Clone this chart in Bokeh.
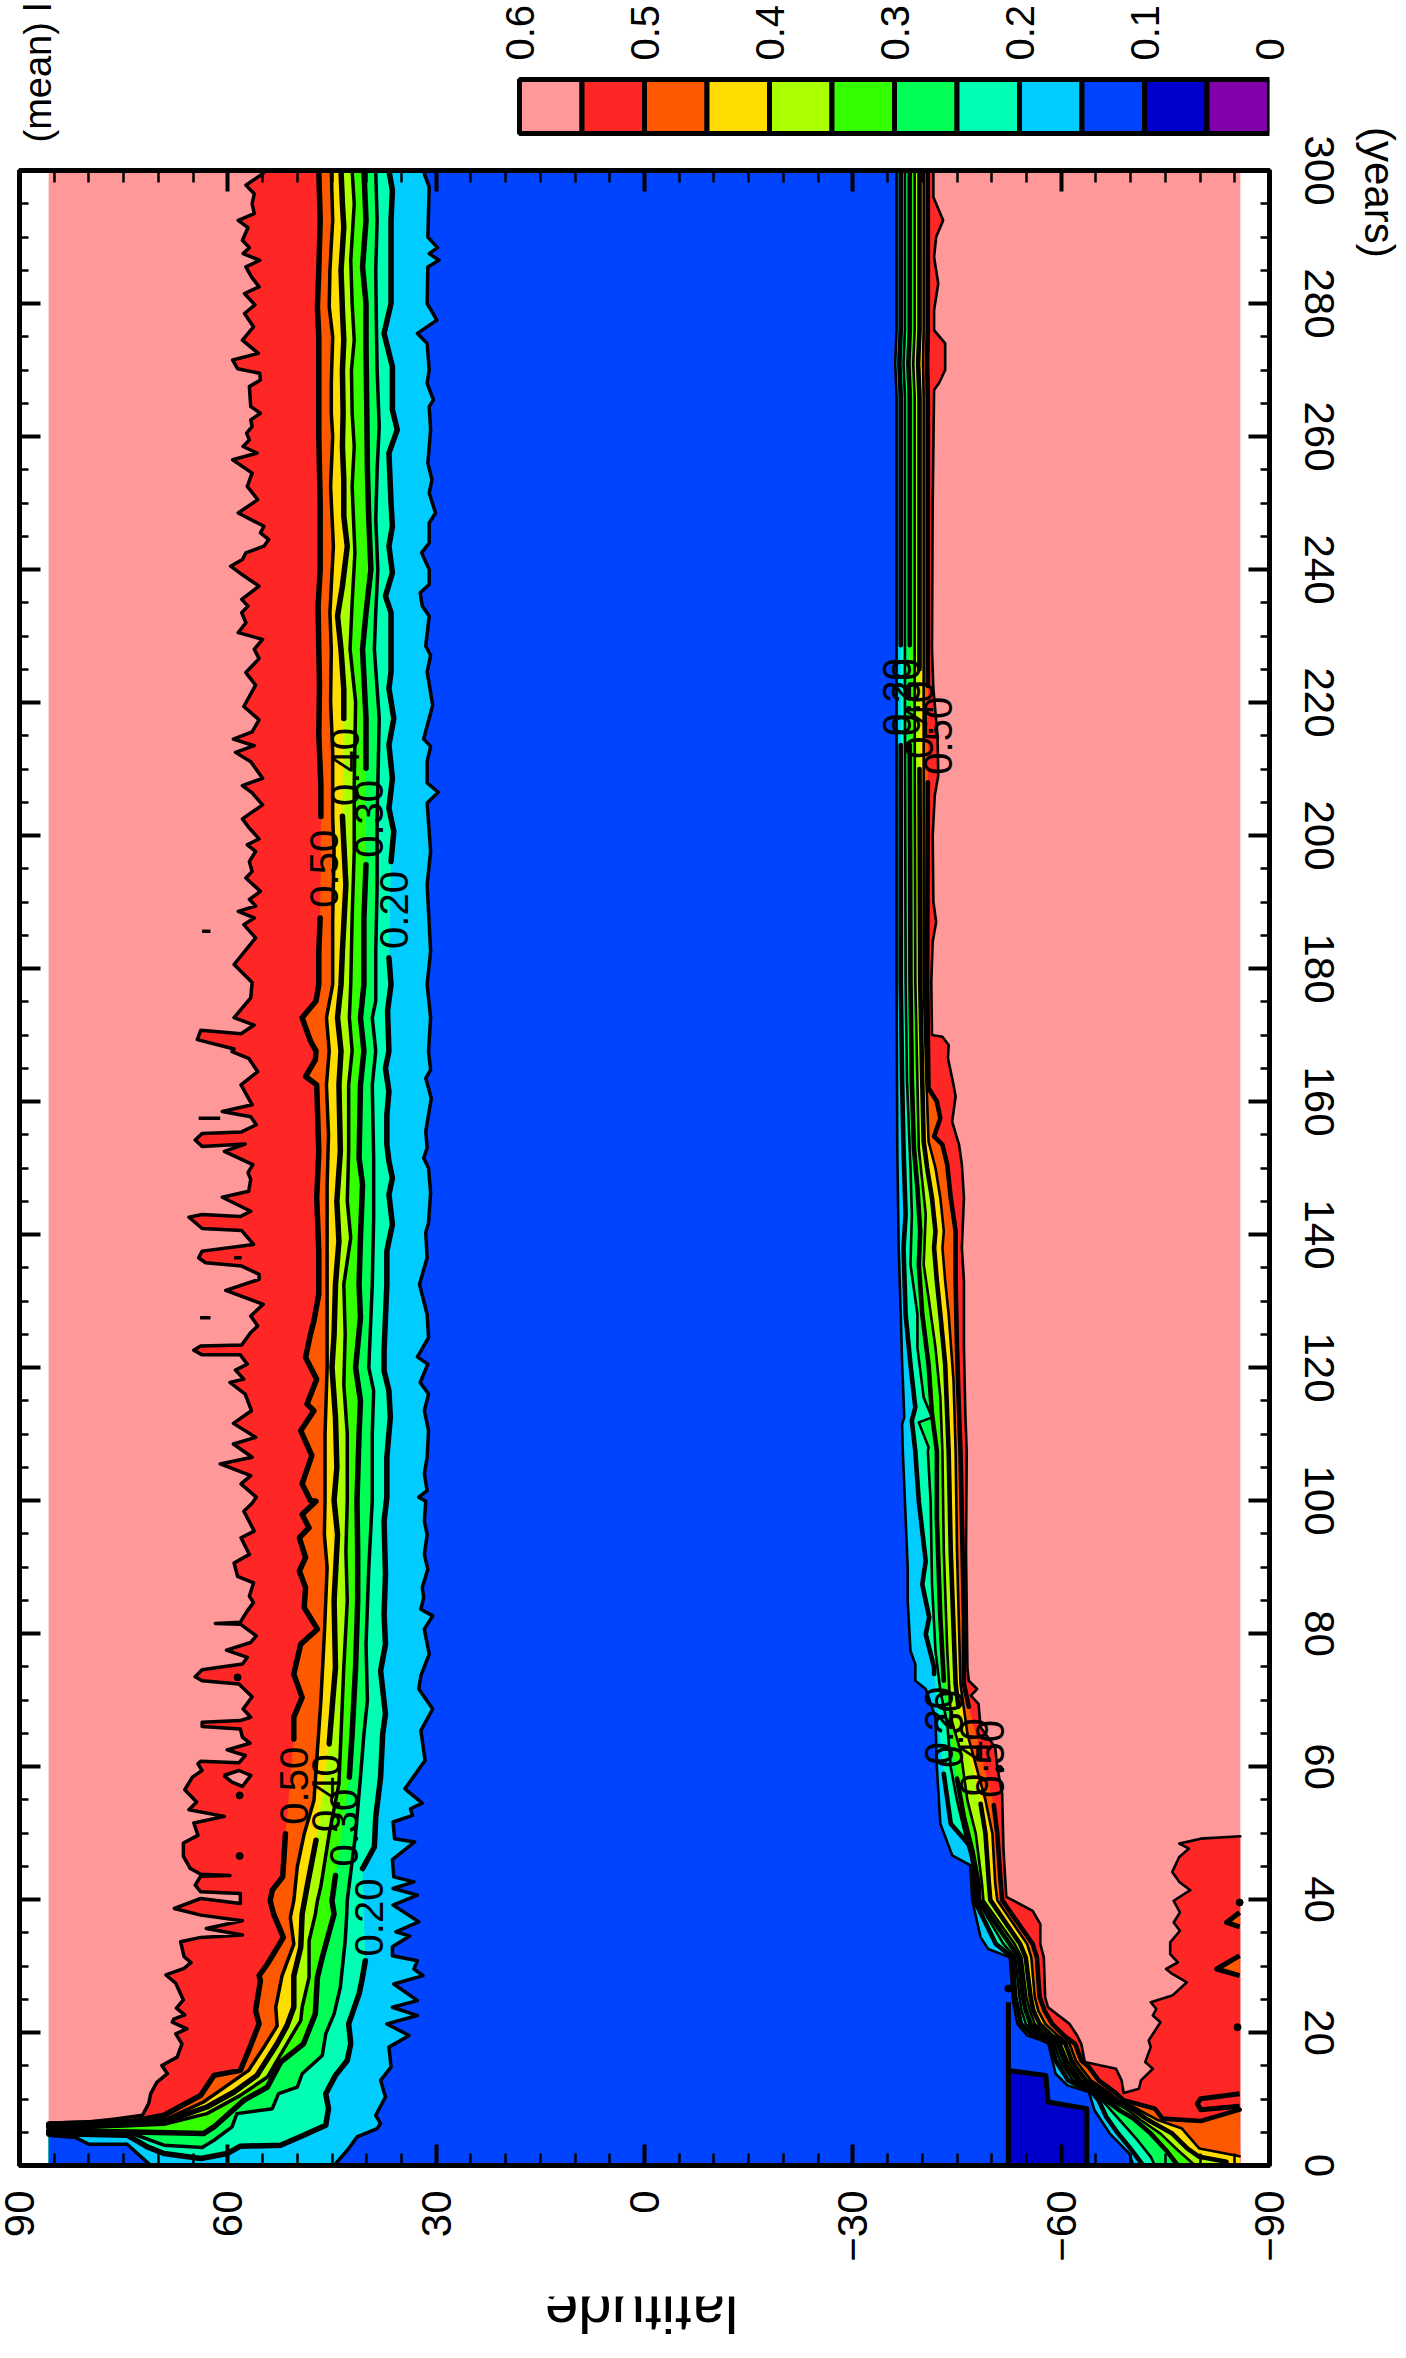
from math import pi
from bokeh.plotting import figure
from bokeh.layouts import column
from bokeh.models import FixedTicker, LinearAxis, Range1d
from bokeh.core.properties import value
from bokeh.embed import file_html
from bokeh.resources import INLINE

GAP = (float("nan"), float("nan"))
FONT = "Liberation Sans"

band_low = [0.55, 0.50, 0.45, 0.40, 0.35, 0.30, 0.25, 0.20, 0.15, 0.10, 0.05, 0.0]
band_colors = ["#ff9999", "#ff2626", "#ff5900", "#ffdd00", "#aaff00", "#33ff00",
               "#00ff55", "#00ffb4", "#00ccff", "#0044ff", "#0000cc", "#8000aa"]
lat_ticks = [90, 60, 30, 0, -30, -60, -90]
lat_minor = list(range(-90, 91, 5))
year_ticks = list(range(0, 301, 20))
year_minor = list(range(0, 301, 5))
bar_ticks = [0, 0.1, 0.2, 0.3, 0.4, 0.5, 0.6]
lat_edge = 85.8

nh_c55 = [(300,54.5),(299.5,55.0),(297.8,57.4),(296.5,56.2),(295,56.5),(293.5,56.2),(292.5,58.5),(291.4,57.1),(289.5,57.9),(288.4,56.9),(287.5,57.8),(286.5,55.4),(285.5,57.4),(284,56.6),(282.5,55.5),(281.5,57.6),(279.8,56.1),(278.5,57.6),(276.5,56.3),(274.5,57.9),(272.5,55.6),(271.5,59.3),(270.2,58.6),(269.5,55.4),(268.5,55.3),(267.5,56.9),(264.5,56.7),(263.5,55.3),(262.5,56.7),(261.5,56.5),(260.5,57.3),(259.5,56.9),(258.5,57.8),(257.5,55.8),(256.5,59.3),(254.5,56.5),(252.5,57.2),(250.5,55.7),(248.5,58.5),(246.5,54.8),(245.5,55.3),(244.5,54.1),(243.5,54.8),(242.5,57.4),(241.5,57.9),(240.5,59.6),(239.2,57.9),(237.5,55.5),(235.5,58.0),(234.5,57.1),(233.5,58.0),(232,57.4),(230.5,58.5),(229.5,55.0),(228,56.2),
 (226.6,55.5),(224.5,57.4),(222.6,56.0),(219.4,57.7),(217.4,55.5),(215.6,56.5),(214.5,59.2),(213.5,56.2),(212.5,58.9),(211.1,56.7),(208.6,55.0),(207.5,57.9),(206.4,56.5),(204.6,55.0),(202.5,57.9),(201.1,56.9),(199.5,55.5),(198.6,57.2),(197.6,56.0),(196.1,56.9),(194.6,56.5),(193.6,57.4),(191.6,55.3),(190.4,56.9),(189.4,56.0),(188.6,58.5),(187.6,56.2),(186.6,57.7),(184.6,56.0),(180.6,59.1),(177.9,56.5),(175.6,56.7),(172.6,59.1),(171.5,56.2),(170.2,58.1),(170.7,63.9),(169.3,64.4),(167.9,59.1),
 (167.5,59.4),(166.5,57.0),(164.5,55.7),(162.5,58.1),(159.5,56.5),(158.5,60.8),(157.7,56.7),(156.5,55.9),(155.4,58.1),(155.2,63.7),(154.2,64.7),(153.25,63.7),(153.6,57.5),(152.5,60.5),(150.5,56.4),(149.3,57.1),(148.3,56.7),(146.5,57.0),(145.6,60.8),(143.5,56.7),(142.7,58.2),(143,63.7),(142.6,65.6),(140.9,63.7),(140.6,58.0),(138.5,56.3),(137.5,63.7),(136.5,64.2),(135.75,63.2),(135.25,58.0),(134,55.5),(133.25,55.5),(131.6,60.3),(129.5,54.9),(127.75,56.7),(126.25,55.7),(125.25,56.7),(123.4,58.0),(123.25,63.9),(122.6,64.9),(121.9,63.7),(121.9,58.2),(120.5,57.2),(119.6,58.9),(118.25,57.7),(117.75,59.7),(116,57.5),(113.5,56.6),(111.6,59.2),(109.5,56.0),(108.5,59.2),(106.5,56.5),(105.5,61.1),(103.75,56.7),(102.5,58.1),(100.5,55.9),
 (99.6,56.5),(98.4,57.7),(95.4,56.2),(94.4,58.1),(91.9,56.9),(90.6,59.1),(88.6,58.6),(87.6,56.3),(85.6,56.9),
 (84.65,56.3),(83.4,57.2),(81.7,58.2),(81.5,61.8),(81.4,58.2),(79.65,55.9),(78.65,56.7),(77.5,60.2),(76.4,57.2),(75.4,57.9),(74.55,63.7),(73.5,64.7),(72.9,63.7),(72.4,58.4),(70.5,56.5),(68.65,57.8),(67.4,56.7),(66.9,58.2),(66.65,63.7),(66.0,63.7),(65.65,58.2),(64.4,57.9),(63.5,56.8),(62.5,60.1),(61.65,57.5),(60.55,58.4),(60.8,63.9),(60.4,64.3),(59.4,63.7),(58.4,65.1),(56.5,66.2),(54.65,64.5),(53.5,65.6),(52.5,60.5),(51.5,64.9),(49.65,64.3),(48.5,66.4),(46.5,66.4),(44.65,65.4),(43.8,63.9),(43.6,59.7),(43.5,63.9),(42.15,64.7),(41.15,63.9),(40.9,58.2),(39.4,58.2),(40.15,63.9),(38.65,67.7),(37.65,63.9),(36.8,57.9),(35.65,63.1),(34.65,57.9),(34.3,63.9),(33.65,66.8),(31.4,66.3),(30.5,65.3),(29.65,66.3),(28.65,68.9),(27.4,67.5),(24.9,66.4),(23.65,67.4),(22.65,66.2),(22.0,67.8),
 (21.55,68.0),(20.55,65.9),(19.8,67.5),(18.3,66.6),(16.3,67.3),(15.05,69.5),(13.8,68.7),(12.55,70.2),(10.8,71.1),(9.3,71.4),(7.55,72.3),(7.05,75.9),(6.55,80),(6.4,85.8)]

nh_c50 = [(300,46.9),(292.5,46.7),(285,46.9),(279.5,47.1),(275,46.9),(268,46.9),(263.5,46.9),(260,46.9),(250,46.7),(240,46.7),(234.5,47),(228,46.9),
 (222.6,46.8),(215.1,46.9),(207.6,46.6),(202.85,46.6),GAP,(187.6,46.7),(182.6,46.9),(177.6,46.9),(175.1,47.3),(172.6,49.3),(169.1,48.1),(167.6,47.3),
 (166.25,47.4),(163.75,48.8),(162.5,47.2),(152.5,46.9),(145.5,47.2),(137.5,46.9),(131,46.9),(127,47.6),(125,48.1),(121.5,48.8),(118.25,47.2),(114.5,48.6),(113.5,47.6),(110.5,49.5),(106.75,47.9),(102.5,49.3),(100,48.1),
 (99.9,47.3),(97.9,49.3),(95.9,48.3),(94.4,49.7),(91.4,48.8),(89.4,49.7),(86.9,48.8),(83.9,49),(80.65,47.1),(78.4,49.5),(73.9,50.5),(70.4,49.3),(67.4,50.5),(64.15,50.5),GAP,(49.9,51.7),(43.4,52.1),(41.4,53.6),
 (39.8,53.9),(37.8,53.4),(34.3,52),(30.3,54.3),(28.55,55.5),(27.8,55.3),(23.3,56),(21.3,55.5),(17.3,57),(14.3,58.2),(13.55,62),(10.55,63.9),(7.55,69.2),(6.7,73.5),(6.2,85.8)]

nh_c45 = [(300,45.1),(292.5,44.9),(285,45.3),(279.5,45.4),(275,44.9),(268,45.1),(263.5,45.1),(260,44.9),(252.5,45.2),(243.5,44.8),(237.5,45.1),(233.5,45.3),(228,45.1),
 (220.1,45.2),(212.6,44.9),(202.6,44.9),(197.6,44.7),(187.6,44.9),(177.6,44.9),(172.6,45.8),(167.6,45.4),
 (162.5,45.8),(155,45.5),(147.5,45.7),(137.5,45.7),(127.5,45.7),(120,45.7),(110,46),(100,46),
 (94.9,46.1),(89.9,45.7),(79.9,46.1),(69.9,46.6),(62.4,47.1),(54.9,47.6),(49.9,49),(44.9,50),
 (39.8,50.5),(37.3,51),(33.3,50.5),(28.5,52.2),(23.8,53.1),(21,52.9),(17.8,54.8),(14.3,57),(11.3,61.1),(9.55,63.5),(7.05,68.7),(6.4,73.5),(6,85.8)]

nh_c40 = [(300,43.7),(295,43.5),(291.5,43.3),(285,43.7),(279,43.5),(274.5,43.3),(270,43.5),(263.5,43.4),(258.5,43.5),(253.5,43.3),(248,43.3),(243.5,42.8),(237.5,43.5),(233,44.2),(228,43.7),
 (222,43.3),(217.6,43.3),GAP,(202.9,43.5),(192.6,43),(182.6,43.5),(177.6,43.7),(172.6,44.2),(167.6,43.7),
 (162.5,44),(152.5,43.8),(145,44.3),(139,44),(132.5,44.5),(125,44.7),(120,45),(112.5,44.5),(105,44.3),(100,44.7),
 (94.9,44.2),(84.9,44.7),(74.9,44.5),(69.9,44.9),(63.4,45.4),GAP,(48.9,47.3),(42.4,48.5),
 (37.8,49.3),(32.8,49.5),(28.5,50.5),(23.8,50.5),(21,51.5),(18.3,52.9),(13.55,55.8),(11.05,59.1),(8.8,63),(6.55,69.2),(6.2,73.5),(5.8,85.8)]

nh_c35 = [(300,42.1),(295,41.8),(286.5,42.3),(280,42.1),(274.5,41.8),(270,42.2),(263.5,42.1),(258.5,41.8),(252.5,42.1),(242.5,41.7),(235,42.1),(228,42.4),
 (220.1,41.6),(207.6,41.8),(197.6,41.8),(187.6,42.1),(177.6,42.3),(172.6,42.5),(167.6,42.1),
 (162.5,42.6),(152.5,42.6),(145,42.8),(139.5,42.3),(132.5,43.3),(125,43.1),(117.5,43.3),(110,42.8),(100,42.8),
 (92.4,43),(84.9,42.8),(74.9,43.3),(64.9,43.7),(57.4,44),(49.9,45.4),(42,46.6),
 (39.8,47.1),(37.8,47.4),(33.8,48.3),(28.3,48.3),(23.8,49.3),(21.8,49.5),(18.3,51.5),(13.3,54.3),(10.55,58.2),(7.8,63),(6.2,69.2),(6.0,73.5),(5.5,85.8)]

nh_c30 = [(300,40.4),(292.5,40.1),(285.5,40.6),(280,40.1),(273.5,40.1),(265,40),(255,39.9),(247.5,39.7),(240,39.4),(233.5,40.1),(228,40.6),
 (217.6,40.1),(210.1,40.1),GAP,(195.6,40.1),(187.6,40.4),(177.6,40.4),(172.6,40.9),(167.6,40.4),
 (162.5,40.9),(151.5,41.1),(147.5,40.6),(139.5,40.9),(132.5,41.1),(127.5,40.9),(120,41.6),(115,40.9),(110,41.1),(100,41.4),
 (92.4,41.3),(84.9,41.3),(74.9,41.6),(64.9,42.1),(58.4,42.5),GAP,(43.6,44.5),
 (39.8,45),(37.8,44.7),(31.3,46.4),(28.3,47.1),(22.8,47.4),(18.3,49.1),(15.55,52.4),(11.8,54.3),(9.8,57.7),(5.8,62),(4.8,63.5),(5.05,73.5),(5.2,85.8)]

nh_c25 = [(300,38.7),(292.5,38.5),(285,38.7),(276.5,38.6),(270,38.5),(261.5,38.2),(255,38.5),(247.5,38.7),(240,38.4),(233.5,38.7),(228,38.9),
 (217.6,38.2),(202.6,38.5),(192.6,38.5),(182.6,38.7),(175.1,38.7),(172.6,39.2),(167.6,38.7),
 (162.5,39.2),(151.5,39),(142.5,39),(132.5,39.2),(125,39.5),(120,39.7),(116.5,39),(110,39.2),(100,39.2),
 (89.9,39.7),(78.4,40.1),(69.9,39.9),(64.9,40.4),(58.4,40.9),(49.9,41.6),(39.9,42.8),
 (37.3,42.9),(33.8,43.1),(26.8,43.8),(22.8,44.7),(19.8,45.9),(16.55,46.4),(13.8,49.3),(11.8,50),(10.8,52.7),(8.55,53.6),(7.8,58.7),(5.8,59.4),(3.8,62),(2.7,63.7),(3.05,69.2),(4.7,73.5),(5,85.8)]

nh_c20 = [(300,36.8),(297,36.3),(292.5,36.5),(285.5,36.5),(280,36.5),(275.5,37.5),(270.5,36.3),(264,36.3),(261,35.6),(257.5,36.8),(250,36.5),(246.5,36.3),(243.5,36.8),(239.5,36.3),(236,37.3),(233.5,36.5),(228,36.5),
 (224.6,36.5),(222.1,36.8),(217.6,36.1),(213.6,36.8),(208.6,36.3),(204.1,36.8),(200.6,36.1),(196.1,36.5),GAP,(181.6,36.8),(177.6,36.5),(173.6,37),(167.6,36.8),
 (165,37.3),(161.5,36.8),(158,37.1),(153.5,37.1),(151,36.8),(148.5,36.3),(146,36.8),(141.5,36.3),(137.5,37.1),(132.5,37.1),(127.5,37.3),(122.5,37.5),(119.5,37.5),(116.5,36.8),(112.5,36.6),(106.5,37.1),(100.5,37.1),
 (96.9,37.5),(88.9,37.3),(82.9,37.5),(78.4,37.3),(74.4,38),(67.9,37.3),(64.9,37.7),(58.4,38),(52.4,38.7),(47.9,38.9),(44.65,40.6),GAP,
 (30.8,40.2),(27.8,40.7),(25.8,41.1),(21.3,42.6),(18.3,42.3),(15.8,42.8),(13.55,44.5),(10.8,45.9),(8.55,45.5),(6.05,45.9),(4.55,49.1),(3.05,52.4),(2.9,58.2),(1.8,60.1),(1.05,63.9),(1.8,69.2),(2.8,71.6),(4.55,74.5),(4.8,85.8)]

nh_c15 = [(300,31.6),(299.5,31.7),(297.5,31),(290,31.2),(288.4,29.8),(287.5,31),(286.5,29.6),(285.5,31.2),(280,31.3),(277.5,29.9),(275.5,32.7),(274,31.3),(270,31),(268,31.3),(265.5,30.4),(264.5,31),(261,30.8),(256,31.2),(253.5,30.6),(251.5,31),(248.5,30.1),(247,31),(244,31),(242.5,32.1),(240,31),(237.75,31),(236.5,32.3),(234.5,32),(233,31),(228.5,31.5),
 (227.1,30.8),(224.6,31.3),(219.6,30.5),(214.5,31.8),(213.4,30.8),(211.1,31.3),(207.9,31.3),(206.5,29.7),(204.9,31.3),(197.6,30.8),(192.6,31.3),(182.6,30.8),(177.6,31.3),(172.6,30.8),
 (167.5,31.1),(164.75,30.8),(163.5,31.5),(160.5,30.7),(155.5,31.5),(153,31.3),(151.5,31.8),(150,31.1),(146.25,30.8),(141.75,31.1),(140.25,31.5),(136.5,31.3),(132.5,32.4),(128,31.3),(124.5,31.1),(121.6,32.7),(120.5,31.2),(117.75,32.3),(116,31.1),(113.5,31.7),(110.5,31.1),(106.5,31.3),(104,31.7),(101.5,31.3),(100.5,32.5),
 (99.9,31.5),(96.9,31.7),(94.9,31.3),(91.9,31.7),(89.65,31.2),(86.9,32),(85.4,31.8),(83.65,32.2),(82.65,30.5),(80.65,31.7),(76.9,31),(73.65,32.2),(71.65,32.5),(68.65,30.5),(65.4,32.2),(60.9,31.6),(56.65,34.5),(54.5,32),(53.65,33.7),(52.65,33.4),(51.65,36.2),(49.15,36),(48.65,33.1),(46,36.3),(43.4,36.1),(42.65,33.2),(41.65,36.2),(40.65,32.7),(39.15,36.2),(36.65,32.5),(35.15,35.8),(34.5,33.8),(32.9,36.3),
 (31.55,36.3),(30.8,32.7),(29.55,33.2),(28.55,31.9),(27.3,36.1),(24.8,32.7),(23.8,36.3),(22.55,32.7),(21.3,37.1),(19.55,33.9),(17.8,36.8),(14.8,36.5),(12.8,38),(10.3,37.3),(7.55,38.7),(6.3,38),(5.55,38.5),(4.3,41.4),(2.55,42.6),(0,44.7),(0,71.1),(3.2,74.5),(3.2,80),(4.2,81.9),(4.55,85.8)]

sh_c15 = [(300,-36.3),(276,-36.3),(271,-36.1),(266,-36.3),(240,-36.3),(214,-36.3),(200,-36.3),(178,-36.3),(153,-36.4),(138,-36.6),(128,-36.9),(120.5,-37.1),(115.5,-37.3),(112.5,-37.4),(111.5,-37.1),
 (107.4,-37.2),(102.4,-37.4),(94.9,-37.7),(89.9,-37.9),(84.9,-37.9),(77.4,-38.3),(75.4,-39),(72.9,-39),(71.65,-40.5),(67.4,-41.9),(59.9,-42.1),(51.4,-42.6),(46.65,-44.3),(45.15,-46.9),(39.9,-47.2),
 (34.3,-48.4),(32.55,-49.5),(31.3,-52.6),(24.55,-53.1),(21.3,-53.7),(19.55,-55.1),(18.55,-58.1),(13.8,-59.2),(12.05,-60.9),(11.05,-64),(8.3,-64.8),(4.8,-67),(1.8,-69.8),(0,-70.4)]

sh_c20 = [(300,-36.9),(276,-36.9),(271,-36.7),(266,-36.9),(228.6,-36.9),GAP,(213.6,-36.9),(178,-36.9),(163,-37.1),(153,-37.3),(143,-37.6),(138,-37.3),(128,-37.6),(120.5,-38.3),(114,-39),(112,-38.5),
 (107.4,-39),(99.9,-39.5),(90.9,-40.5),(87.4,-40),(82.4,-41),(79.9,-40.5),(74.9,-41.7),(73.9,-41.7),GAP,(58.9,-43.1),(51.4,-44.1),(47.9,-47),(44.9,-47.4),(39.9,-47.5),
 (33.3,-50.6),(31.3,-53),(25.3,-53.4),(23.3,-53.8),(21.3,-54.2),(19.55,-55.9),(18.3,-58.6),(15.8,-59.2),(14.8,-59.8),(12.8,-61),(11.05,-64.4),(9.8,-65.4),(7.3,-66.5),(4.8,-68.2),(2.8,-69.8),(0,-71.8)]

sh_c25 = [(300,-37.5),(276,-37.5),(271,-37.3),(266,-37.5),(220,-37.5),(178,-37.6),(163,-37.8),(150,-38.3),(143,-38.5),(135.5,-38.3),(128,-39.3),(123,-39.3),(115.5,-40.2),(112.5,-41.4),(111.75,-39.5),(108,-40.9),
 (107.4,-40.8),(99.9,-41.2),(87.4,-41.4),(77.4,-41.9),(71.4,-42.6),(66.4,-43.6),(59.9,-44.1),(54.9,-45),(48.4,-46.5),(43.9,-47.7),(39.9,-47.9),
 (33.3,-51.7),(31.3,-53.4),(25.3,-54),(23.3,-54.3),(21.3,-54.9),(19.55,-56.6),(18.3,-59),(15.8,-59.8),(14.8,-60.4),(12.8,-61.7),(11.05,-64.8),(9.8,-65.9),(7.8,-67.6),(5.8,-69.3),(3.8,-71),(1.3,-72.9),(0,-73.5)]

sh_c30 = [(300,-38.2),(276,-38.2),(271,-38),(266,-38.2),(228.6,-38.2),GAP,(213.6,-38.2),(178,-38.3),(163,-38.5),(153,-38.8),(147,-39.3),(140.5,-39.7),(135.5,-39.5),(128,-40),(120.5,-40.9),(113,-41.4),
 (107.4,-42.1),(97.4,-42.1),(82.4,-42.6),(72.9,-43.1),GAP,(58.2,-45),(52.4,-46),(47.4,-47.2),(42.4,-48.1),(39.9,-48.2),
 (33.3,-52.6),(31.3,-53.9),(25.3,-54.5),(23.3,-54.9),(21.3,-55.6),(19.55,-57.2),(18.3,-59.5),(15.8,-60.4),(14.8,-60.9),(12.8,-62.4),(11.05,-65.3),(9.8,-66.5),(8.3,-68.4),(7.05,-70.4),(4.8,-72.9),(2.3,-75.1),(0,-76.8)]

sh_c35 = [(300,-38.9),(276,-38.9),(271,-38.7),(266,-38.9),(220,-38.9),(178,-39),(163,-39.3),(153,-39.5),(148,-40),(143,-40.5),(135.5,-40.2),(130.5,-40.9),(123,-41.9),(115.5,-42.6),
 (107.4,-42.9),(92.4,-43.1),(77.4,-43.6),(67.4,-44.1),(62.4,-45.5),(54.9,-46.5),(49.9,-47.7),(42.4,-48.6),(39.9,-48.8),
 (33.3,-53.3),(31.3,-54.3),(25.3,-55),(23.3,-55.5),(21.3,-56.2),(19.55,-57.9),(18.3,-59.9),(15.8,-60.9),(14.8,-61.5),(12.8,-62.9),(11.05,-65.7),(9.8,-67),(8.55,-69.3),(6.8,-71.5),(4.8,-74.3),(2.3,-76.8),(0,-79.3)]

sh_c40 = [(300,-39.6),(276,-39.6),(271,-39.4),(266,-39.6),(225,-39.6),GAP,(210,-39.6),(178,-39.7),(163,-40),(154,-40.2),(150,-40.7),(145.5,-41.4),(140.5,-41.9),(138,-41.7),(133,-42.1),(128,-42.6),(120.5,-43.3),
 (107.4,-43.8),(92.4,-44.1),(72.4,-44.8),(69,-45.2),GAP,(54.4,-48.4),(49.9,-49.1),(42.4,-49.6),(39.9,-49.8),
 (33.3,-54.1),(31.3,-54.9),(25.3,-55.6),(23.3,-56),(21.3,-56.9),(19.55,-58.6),(18.3,-60.6),(15.8,-61.5),(14.8,-62.1),(12.8,-63.6),(11.05,-66.3),(9.8,-67.6),(8.8,-69.8),(6.8,-72.6),(4.8,-76),(2.55,-78.2),(1.3,-79.9),(0.55,-83.8),(0,-83.8)]

sh_c45 = [(300,-40.2),(276,-40.2),(271,-40.1),(266,-40.2),(220,-40.2),(178,-40.2),(163,-40.6),(154,-40.9),(150,-41.9),(145.5,-42.6),(140.5,-43.1),(138,-42.9),(133,-43.3),(128,-43.8),(118,-44.5),
 (107.4,-44.8),(92.4,-45),(72.4,-45.5),(64.9,-46.5),(54.9,-49.1),(49.9,-50.1),(42.4,-50.5),(39.9,-50.8),
 (33.3,-55.1),(31.3,-55.7),(25.3,-56.2),(23.3,-56.7),(21.3,-57.7),(19.55,-59.5),(18.3,-61.2),(15.8,-62.1),(14.8,-62.8),(12.8,-64.3),(11.05,-66.8),(9.8,-68.2),(8.8,-70.4),(6.8,-74),(5.55,-77.4),(2.55,-79.9),(1.4,-85.7)]

sh_c50 = [(300,-40.8),(276,-40.8),(271,-40.7),(266,-40.8),(222.5,-40.8),GAP,(208,-40.8),(178,-40.7),(162,-40.9),(160,-42.1),(157.5,-42.6),(154.75,-41.7),(153.5,-42.9),(150.5,-43.6),(145.5,-44.1),(140.5,-44.8),(133,-44.8),(123,-45),(113,-45.3),
 (107.4,-45.5),(82.4,-46),(72.4,-46),(69,-46.7),GAP,(54.2,-50.3),(49.9,-50.8),(42.4,-51.3),(39.9,-51.5),
 (33.3,-55.9),(31.3,-56.5),(25.3,-56.9),(23.3,-57.6),(21.3,-58.7),(19.55,-60.4),(18.3,-62),(15.8,-62.9),(14.8,-64),(12.8,-65.4),(11.05,-67.7),(9.8,-69),(8.55,-73.5),(7.05,-74.6),(6.7,-80.1),(8.4,-85.7)]

sh_c55 = [(300,-41.6),(296,-41.6),(292.5,-43),(290,-42),(287,-41.7),(283,-42.3),(279,-41.7),(276,-41.7),(274,-43.3),(270,-43.3),(268,-42.4),(267,-41.7),(250,-41.5),(228,-41.4),(222,-41.6),(215,-42.2),(209,-42.3),(206,-41.8),(200,-41.5),(190,-41.6),(187,-42),(184,-41.5),(178,-41.3),
 (170,-41.4),(169.75,-42.9),(168.5,-43.8),(166.5,-43.7),(162.5,-44.5),(160.75,-44.8),(157,-44.3),(154.5,-45),(153.5,-45.3),(150.5,-45.7),(145.5,-46),(138,-45.7),(133,-46),(123,-46),(113,-46.2),
 (107.4,-46.4),(92.4,-46.3),(74.9,-46.5),(72.9,-46.7),(71.65,-47.9),(70.65,-47),(69.4,-48.1),(65.9,-48.4),(62.9,-50.5),(59.9,-50.8),(55.9,-51.5),(47.4,-51.7),(40.4,-52.1),
 (38.3,-55.9),(36.3,-57),(33.3,-57),(31.3,-57.5),(25.3,-57.7),(23.8,-58.1),(21.3,-61.2),(19.55,-62.3),(18.3,-62.9),(15.55,-63.4),(14.55,-67.9),(12.8,-68.7),(10.9,-69),
 (11.55,-71.2),(12.8,-71.5),(14.55,-73.2),(15.55,-72.1),(17.8,-72.9),(18.8,-72.6),(21.55,-74.3),(22.55,-73.2),(23.55,-73.7),(24.55,-72.9),(25.55,-76),(27.55,-78.1),(28.8,-76),(29.55,-75.1),(30.55,-76.8),(31.8,-75.7),(33.55,-75.7),(35.3,-77.1),(36.55,-76.2),(38.05,-77.1),(39.8,-76.2),(40.15,-76.7),(41.4,-78.6),(42.65,-77),(44.15,-76),(46.4,-77),(47.65,-78.4),(48.4,-77),(49.15,-80.1),(49.5,-85.8)]

sh_dark = [(0,-52.4),(14.3,-52.4),(13.55,-57.8),(9.55,-58.1),(8.55,-63.7),(0,-63.7)]
sh_c10_stem = [(14.3,-52.4),(24.55,-52.4)]
sh_orange_a = [(31.55,-85.7),(29.55,-82.4),(28.55,-85.7)]
sh_orange_b = [(38.05,-85.7),(36.55,-83.8),(35.9,-85.7)]
sh_c50_loop = [(10.8,-85.7),(10.05,-80.1),(9.3,-79.6),(8.4,-80.1),(8.9,-85.7)]
nh_island = [(58.65,60.6),(59.4,58.4),(58.65,56.7),(57,57.9),(57.65,59.4),(58.65,60.6)]
nh_dash_a = [(157.5,64.2),(157.5,61.1)]
nh_dash_b = [(136.5,59.1),(136.5,58)]
nh_dash_c = [(127.5,64),(127.5,62.5)]
nh_dash_d = [(185.6,63.7),(185.6,62.5)]
dot_year = [73.4, 55.65, 46.55, 59.65, 20.8, 39.55, 26.6]
dot_lat = [58.6, 58.3, 58.3, -51.1, -85.4, -85.7, -52.4]

label_text = ["0.50", "0.40", "0.30", "0.20", "0.50", "0.40", "0.30", "0.20",
              "0.20", "0.30", "0.40", "0.50", "0.20", "0.30", "0.40", "0.50"]
label_lat = [46.2, 43.1, 39.7, 36.1, 50.5, 45.9, 43.3, 39.7,
             -36.4, -37.6, -39.5, -42.3, -42.4, -43.8, -47.4, -49.8]
label_year = [195, 210.3, 202.5, 188.8, 57.1, 56, 50.8, 37.3,
              220.8, 220.8, 217.4, 215, 66.15, 65.65, 61.4, 61.15]

levels = [
    (nh_c55, sh_c55, band_colors[1], 3.5, 2.6),
    (nh_c50, sh_c50, band_colors[2], 5.5, 4.6),
    (nh_c45, sh_c45, band_colors[3], 3.5, 2.6),
    (nh_c40, sh_c40, band_colors[4], 5.5, 4.6),
    (nh_c35, sh_c35, band_colors[5], 3.5, 2.6),
    (nh_c30, sh_c30, band_colors[6], 5.5, 4.6),
    (nh_c25, sh_c25, band_colors[7], 3.5, 2.6),
    (nh_c20, sh_c20, band_colors[8], 5.5, 4.6),
    (nh_c15, sh_c15, band_colors[9], 3.5, 2.6),
]


def xs(pairs):
    return [b for a, b in pairs]


def ys(pairs):
    return [a for a, b in pairs]


def solid(pairs):
    return [q for q in pairs if q[0] == q[0]]


p = figure(width=1406, height=2358, output_backend="svg", toolbar_location=None,
           x_range=Range1d(90, -90), y_range=Range1d(0, 300),
           x_axis_location=None, y_axis_location=None,
           min_border_left=19, min_border_right=137, min_border_top=168, min_border_bottom=193,
           background_fill_color="white", border_fill_color=None,
           outline_line_color="black", outline_line_width=5)
p.grid.visible = False

p.quad(left=[lat_edge], right=[-lat_edge], bottom=[0], top=[300],
       fill_color=band_colors[0], line_color=None)

for nh, sh, colour, w_n, w_s in levels:
    a, b = solid(nh), solid(sh)
    p.patch(xs(a) + [lat_edge, -lat_edge] + xs(b)[::-1],
            ys(a) + [0, 0] + ys(b)[::-1],
            fill_color=colour, line_color=None)

p.patch(xs(sh_dark), ys(sh_dark), fill_color=band_colors[10], line_color=None)
p.patch(xs(sh_orange_a), ys(sh_orange_a), fill_color=band_colors[2], line_color=None)
p.patch(xs(sh_orange_b), ys(sh_orange_b), fill_color=band_colors[2], line_color=None)
p.patch(xs(nh_island), ys(nh_island), fill_color=band_colors[0], line_color=None)

for nh, sh, colour, w_n, w_s in levels:
    p.line(xs(nh), ys(nh), line_color="black", line_width=w_n, line_join="round", line_cap="round")
    p.line(xs(sh), ys(sh), line_color="black", line_width=w_s, line_join="round", line_cap="round")

for path in (sh_dark + [sh_dark[0]], sh_c10_stem, sh_c50_loop, sh_orange_a, sh_orange_b):
    p.line(xs(path), ys(path), line_color="black", line_width=5, line_join="round")
for path in (nh_island, nh_dash_a, nh_dash_b, nh_dash_c, nh_dash_d):
    p.line(xs(path), ys(path), line_color="black", line_width=3.5, line_join="round")
p.scatter(dot_lat, dot_year, size=7, color="black")

p.text(label_lat, label_year, text=label_text, angle=pi / 2, text_align="center", text_baseline="middle",
       text_font=value(FONT), text_font_size=value("40px"), text_color="black")


def style_axis(ax, ticks, minor, minor_len, show_labels, orientation=pi / 2):
    ax.ticker = FixedTicker(ticks=ticks, minor_ticks=minor)
    ax.axis_line_color = "black"
    ax.axis_line_width = 5
    ax.major_tick_in = 21
    ax.major_tick_out = 0
    ax.minor_tick_in = minor_len
    ax.minor_tick_out = 0
    ax.major_tick_line_color = "black"
    ax.major_tick_line_width = 4
    ax.minor_tick_line_color = "black"
    ax.minor_tick_line_width = 2.5
    if show_labels:
        ax.major_label_text_font = FONT
        ax.major_label_text_font_size = "42px"
        ax.major_label_text_color = "black"
        ax.major_label_orientation = orientation
    else:
        ax.major_label_text_font_size = "0px"
        ax.major_label_text_color = None


def text_axis(where, text, size, angle, standoff):
    """An axis with one labelled tick and no lines: the way to write text outside the frame."""
    ax = LinearAxis()
    ax.ticker = FixedTicker(ticks=[where])
    ax.major_label_overrides = {where: text}
    ax.axis_line_color = None
    ax.major_tick_line_color = None
    ax.minor_tick_line_color = None
    ax.major_tick_in = 0
    ax.major_tick_out = 0
    ax.minor_tick_in = 0
    ax.minor_tick_out = 0
    ax.major_label_text_font = FONT
    ax.major_label_text_font_size = size
    ax.major_label_text_color = "black"
    ax.major_label_orientation = angle
    ax.major_label_standoff = standoff
    return ax


below = LinearAxis()
style_axis(below, lat_ticks, lat_minor, 12, True)
below.major_label_overrides = {t: str(t).replace("-", "\u2212") for t in lat_ticks}
below.major_label_standoff = 25
p.add_layout(below, "below")

above = LinearAxis()
style_axis(above, lat_ticks, lat_minor, 12, False)
p.add_layout(above, "above")
p.add_layout(text_axis(87.3, "(mean) l", "38px", pi / 2, 28), "above")

left = LinearAxis()
style_axis(left, year_ticks, year_minor, 9, False)
p.add_layout(left, "left")

right = LinearAxis()
style_axis(right, year_ticks, year_minor, 9, True, "vertical")
right.major_label_standoff = 35
p.add_layout(right, "right")
p.add_layout(text_axis(296.7, "(years)", "42px", "vertical", 19), "right")

# The column lines up the frames of its figures, so this one shares the main figure's side borders.
cb = figure(width=1406, height=160, output_backend="svg", toolbar_location=None,
            x_range=Range1d(1.0, 0), y_range=Range1d(-0.074, 1.074),
            x_axis_location=None, y_axis_location=None,
            min_border_left=19, min_border_right=137, min_border_top=75, min_border_bottom=23,
            background_fill_color="white", border_fill_color="white", outline_line_color=None)
cb.grid.visible = False
cb.quad(left=band_low, right=[v + 0.05 for v in band_low], bottom=0, top=1,
        fill_color=band_colors, line_color="black", line_width=5)
cb_axis = LinearAxis()
cb_axis.ticker = FixedTicker(ticks=bar_ticks)
cb_axis.axis_line_color = None
cb_axis.major_tick_in = 0
cb_axis.major_tick_out = 0
cb_axis.minor_tick_in = 0
cb_axis.minor_tick_out = 0
cb_axis.major_label_text_font = FONT
cb_axis.major_label_text_font_size = "40px"
cb_axis.major_label_text_color = "black"
cb_axis.major_label_orientation = pi / 2
cb_axis.major_label_standoff = 15
cb_axis.major_label_overrides = {t: ("0" if t == 0 else f"{t:.1f}") for t in bar_ticks}
cb.add_layout(cb_axis, "above")

# A slim figure laid over the foot of the page holds the axis title, upside down like the reference.
foot = figure(width=1406, height=80, output_backend="svg", toolbar_location=None,
              x_range=Range1d(90, -90), y_range=Range1d(0, 80),
              x_axis_location=None, y_axis_location=None,
              min_border_left=19, min_border_right=137, min_border_top=0, min_border_bottom=0,
              background_fill_color=None, border_fill_color=None, outline_line_color=None)
foot.grid.visible = False
foot.text([0.43], [65], text=["latitude"], angle=pi, text_align="center", text_baseline="alphabetic",
          text_font=value(FONT), text_font_size=value("60px"), text_color="black")

p.margin = (-160, 0, 0, 0)
foot.margin = (-62, 0, 0, 0)
page = column(cb, p, foot, spacing=0)
open("out.html", "w").write(file_html(page, INLINE))
